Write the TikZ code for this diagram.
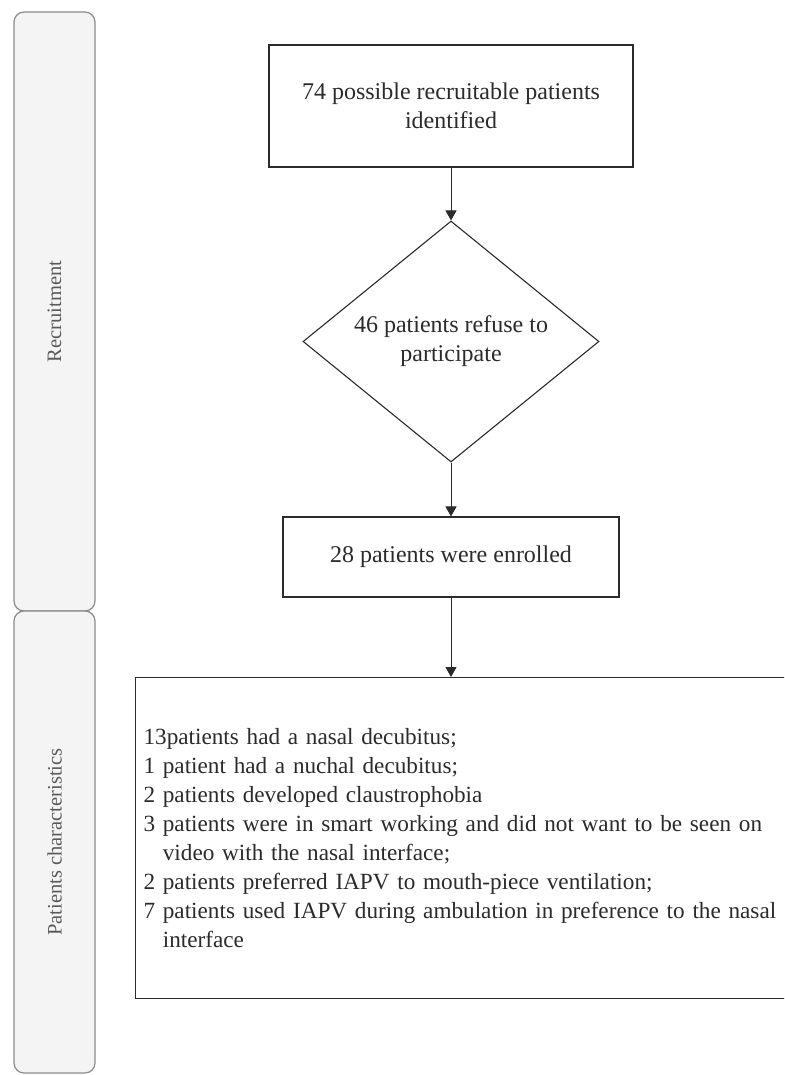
\documentclass[tikz,border=0pt]{standalone}
\usepackage{fontspec}
\setmainfont{Liberation Serif}
\usetikzlibrary{shapes.geometric,arrows.meta}
\definecolor{lanefill}{HTML}{F4F4F4}
\definecolor{laneline}{HTML}{8C8C8C}
\definecolor{lanetext}{HTML}{5A5A5A}
\definecolor{ink}{HTML}{2B2B2B}

\begin{document}
\begin{tikzpicture}[x=1pt,y=-1pt,
  lane/.style={draw=laneline,fill=lanefill,line width=1.2pt,rounded corners=10pt,rotate=90,minimum height=81pt,text=lanetext,font=\fontsize{20.5}{24}\selectfont},
  box/.style={draw=ink,line width=1.1pt,text=ink,align=center,font=\fontsize{24}{29}\selectfont},
  link/.style={draw=ink,line width=1pt,-{Triangle[width=11pt,length=10pt]}}]
  \clip (0,0) rectangle (784,1075);
  \fill[white] (0,0) rectangle (784,1075);

  %swim lanes
  \node[lane,minimum width=599pt] (recruit) at (54.5,311.5) {Recruitment};
  \node[lane,minimum width=462pt] (traits) at (54.5,842) {Patients characteristics};

  %flow
  \node[box,minimum width=364pt,minimum height=122pt] (found) at (451,106) {74 possible recruitable patients\\identified};
  \node[box,diamond,aspect=1.23,minimum width=296pt,minimum height=241pt,inner sep=0pt] (refuse) at (451,341.5) {46 patients refuse to\\participate};
  \node[box,minimum width=336pt,minimum height=80pt] (enrol) at (451,557) {28 patients were enrolled};
  \node[box,anchor=north west,minimum height=321pt,text width=700pt,inner xsep=8pt,align=left,font=\fontsize{23.2}{29}\selectfont] (chars) at (135,677) {%
    13patients had a nasal decubitus;\\
    1 patient had a nuchal decubitus;\\
    2 patients developed claustrophobia\\
    3 patients were in smart working and did not want to be seen on\\
    \phantom{3 }video with the nasal interface;\\
    2 patients preferred IAPV to mouth-piece ventilation;\\
    7 patients used IAPV during ambulation in preference to the nasal\\
    \phantom{7 }interface};

  \draw[link] (found) -- (refuse);
  \draw[link] (refuse) -- (enrol);
  \draw[link] (enrol) -- (enrol |- chars.north);
\end{tikzpicture}
\end{document}
